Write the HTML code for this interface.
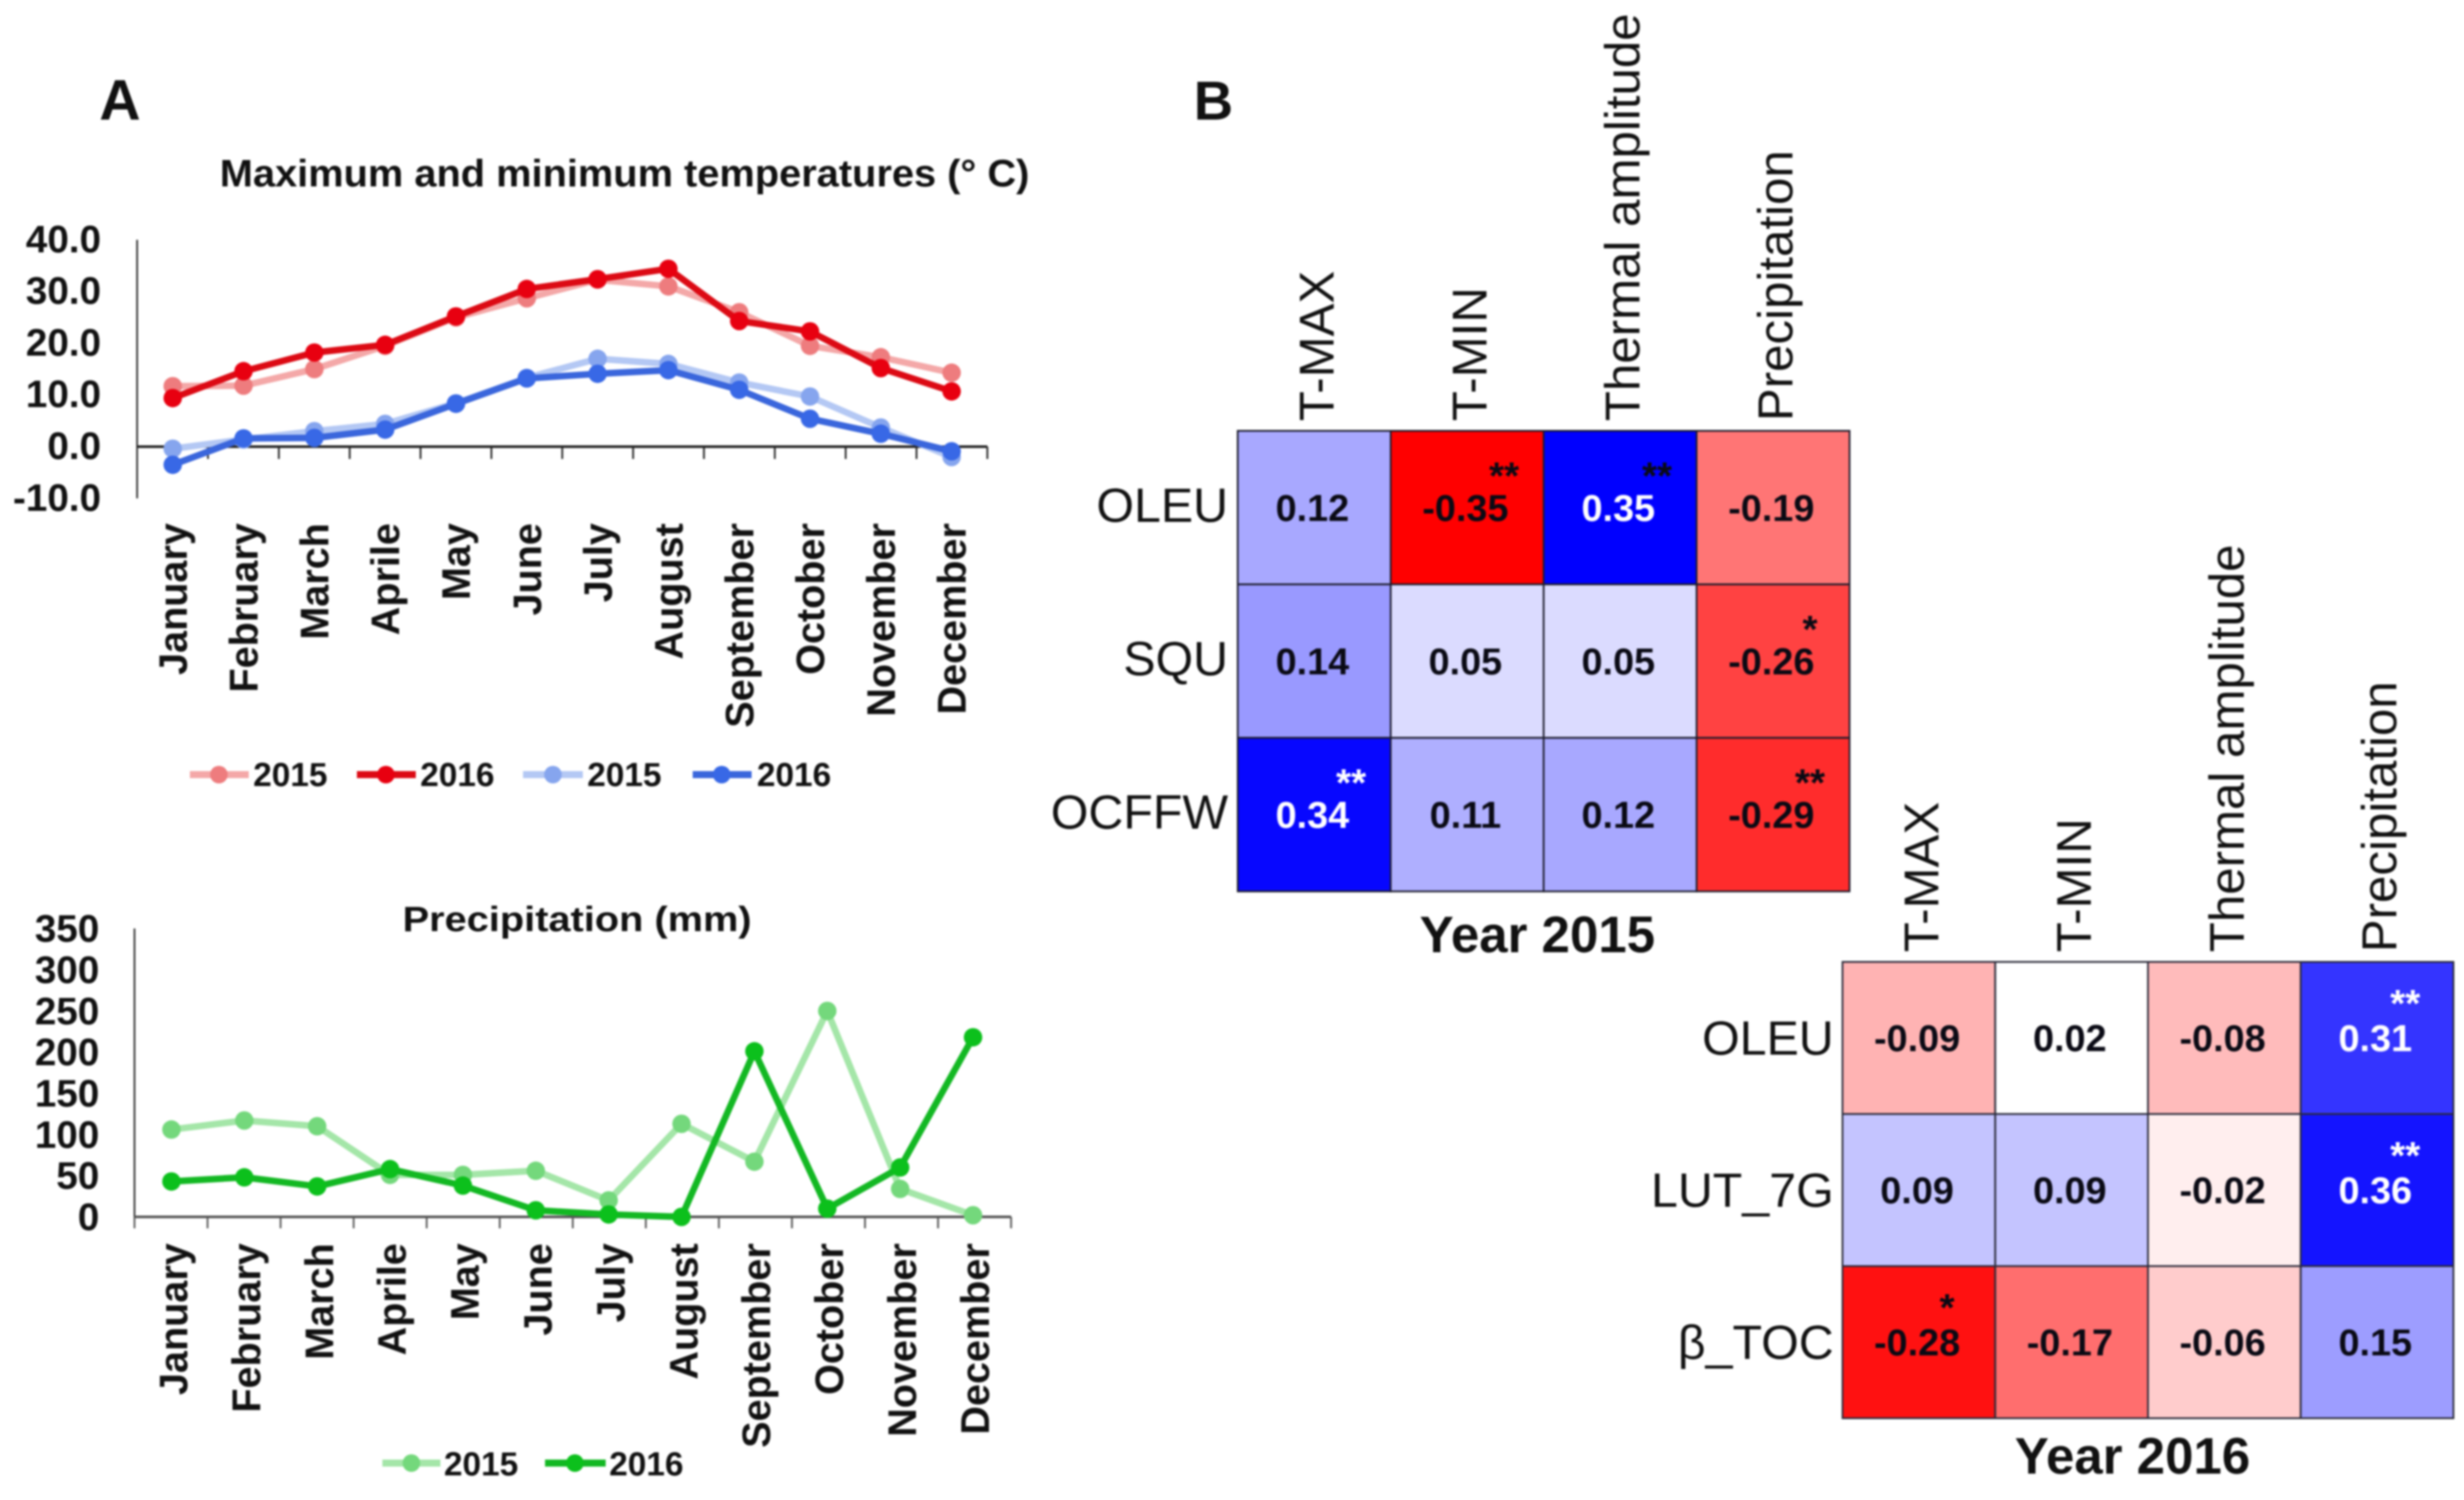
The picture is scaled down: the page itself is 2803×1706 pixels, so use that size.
<!DOCTYPE html>
<html lang="en">
<head>
<meta charset="utf-8">
<title>Temperature, precipitation and correlation heatmaps</title>
<style>
html,body{margin:0;padding:0;background:#fff;width:2803px;height:1706px;overflow:hidden}
svg{display:block;filter:blur(1.1px)}
text{font-family:"Liberation Sans","DejaVu Sans",sans-serif;fill:#111}
.b{font-weight:700}
</style>
</head>
<body>
<svg id="fig" xmlns="http://www.w3.org/2000/svg" width="2803" height="1706" viewBox="0 0 2803 1706">
  <rect x="0" y="0" width="2803" height="1706" fill="#fff"/>
  <text class="b" x="113" y="136" font-size="65">A</text>
  <text class="b" x="1358" y="136" font-size="62">B</text>
  <text class="b" x="250" y="212" font-size="44" textLength="921" lengthAdjust="spacingAndGlyphs">Maximum and minimum temperatures (° C)</text>
  <text class="b" x="458" y="1059" font-size="40" textLength="397" lengthAdjust="spacingAndGlyphs">Precipitation (mm)</text>
  <g id="temp-chart"></g>
  <g id="precip-chart"></g>

  <g>
    <g>
      <line x1="216" x2="283" y1="881" y2="881" stroke="#f4a8a8" stroke-width="8"/><circle cx="249" cy="881" r="10" fill="#ee7c7e"/>
      <text class="b" x="288" y="894" font-size="38">2015</text>
    </g>
    <g>
      <line x1="406" x2="473" y1="881" y2="881" stroke="#dc0a14" stroke-width="8"/><circle cx="439" cy="881" r="10" fill="#e80010"/>
      <text class="b" x="478" y="894" font-size="38">2016</text>
    </g>
    <g>
      <line x1="595" x2="663" y1="881" y2="881" stroke="#b4c8f4" stroke-width="8"/><circle cx="629" cy="881" r="10" fill="#86a5ee"/>
      <text class="b" x="668" y="894" font-size="38">2015</text>
    </g>
    <g>
      <line x1="788" x2="855" y1="881" y2="881" stroke="#3a66dc" stroke-width="8"/><circle cx="821" cy="881" r="10" fill="#3868e6"/>
      <text class="b" x="861" y="894" font-size="38">2016</text>
    </g>
  </g>

  <g>
    <g>
      <line x1="435" x2="501" y1="1664" y2="1664" stroke="#a4e6a8" stroke-width="8"/><circle cx="468" cy="1664" r="10" fill="#74d87c"/>
      <text class="b" x="505" y="1678" font-size="38">2015</text>
    </g>
    <g>
      <line x1="620" x2="689" y1="1664" y2="1664" stroke="#13b823" stroke-width="8"/><circle cx="654" cy="1664" r="10" fill="#0cc01c"/>
      <text class="b" x="693" y="1678" font-size="38">2016</text>
    </g>
  </g>

  <g id="heatmap-2015"></g>
  <g id="heatmap-2016"></g>
  <text class="b" x="1615" y="1083" font-size="58">Year 2015</text>
  <text class="b" x="2292" y="1676" font-size="58">Year 2016</text>
</svg>

<script>
// ---- Line chart data ----
const months = ['January','February','March','Aprile','May','June','July','August','September','October','November','December'];
const tempTicks = [40, 30, 20, 10, 0, -10];
const tempMax2015 = [11.7, 11.8, 15, 19.5, 25, 28.7, 32.3, 31, 26, 19.5, 17.3, 14.3];
const tempMax2016 = [9.4, 14.6, 18.2, 19.7, 25.2, 30.5, 32.4, 34.4, 24.3, 22.3, 15.2, 10.7];
const tempMin2015 = [-0.4, 1.4, 3, 4.4, 8.4, 13.3, 17, 16, 12.4, 9.7, 3.7, -2];
const tempMin2016 = [-3.5, 1.6, 1.7, 3.3, 8.3, 13.2, 14.1, 14.8, 11, 5.4, 2.5, -0.9];
const precipTicks = [350, 300, 250, 200, 150, 100, 50, 0];
const precip2015 = [106, 117, 110, 51, 51, 56, 20, 113, 67, 250, 34, 2];
const precip2016 = [43, 48, 37, 58, 38, 8, 3, 0, 201, 10, 60, 218];

// ---- Heatmap data ----
const columns = ['T-MAX','T-MIN','Thermal amplitude','Precipitation'];
const rows2015 = ['OLEU','SQU','OCFFW'];
const values2015 = [
  [0.12, -0.35, 0.35, -0.19],
  [0.14, 0.05, 0.05, -0.26],
  [0.34, 0.11, 0.12, -0.29]
];
const stars2015 = [
  ['', '**', '**', ''],
  ['', '', '', '*'],
  ['**', '', '', '**']
];
const rows2016 = ['OLEU','LUT_7G','β_TOC'];
const values2016 = [
  [-0.09, 0.02, -0.08, 0.31],
  [0.09, 0.09, -0.02, 0.36],
  [-0.28, -0.17, -0.06, 0.15]
];
const stars2016 = [
  ['', '', '', '**'],
  ['', '', '', '**'],
  ['*', '', '', '']
];

const NS = 'http://www.w3.org/2000/svg';
function make(tag, attrs, parent, txt) {
  const e = document.createElementNS(NS, tag);
  for (const k in attrs) e.setAttribute(k, attrs[k]);
  if (txt !== undefined) e.textContent = txt;
  parent.appendChild(e);
  return e;
}

function drawLineChart(root, cfg) {
  const x = i => cfg.firstX + i * cfg.stepX;
  const y = v => cfg.zeroY - v * cfg.unitY;

  const yAxis = make('line', {x1: cfg.axisX, x2: cfg.axisX, y1: y(cfg.yTop), y2: y(cfg.yBottom), stroke: '#333', 'stroke-width': 2}, root);
  
  

  const xAxis = make('line', {x1: cfg.axisX, x2: cfg.axisX + 12 * cfg.tickStep, y1: cfg.zeroY, y2: cfg.zeroY, stroke: cfg.axisColor, 'stroke-width': 3}, root);
  
  

  for (let i = cfg.firstTick; i <= 12; i++) {
    const t = make('line', {x1: cfg.axisX + i * cfg.tickStep, x2: cfg.axisX + i * cfg.tickStep, y1: cfg.zeroY, y2: cfg.zeroY + cfg.tickLen, stroke: cfg.axisColor, 'stroke-width': 2}, root);
    
    
  }

  cfg.ticks.forEach(v => {
    const t = make('text', {x: cfg.labelRight, y: y(v) + cfg.labelBase, 'text-anchor': 'end', 'font-size': 44, 'font-weight': 700}, root, cfg.format(v));
    
    
  });

  months.forEach((m, i) => {
    const bx = x(i) + cfg.monthOffset;
    const t = make('text', {x: bx, y: cfg.monthTop, 'text-anchor': 'end', 'font-size': 45, 'font-weight': 700, transform: 'rotate(-90 ' + bx + ' ' + cfg.monthTop + ')'}, root, m);
    
    
  });

  cfg.series.forEach(s => {
    const g = make('g', {}, root);
    
    
    const pts = s.values.map((v, i) => x(i).toFixed(1) + ',' + y(v).toFixed(1)).join(' ');
    const l = make('polyline', {points: pts, fill: 'none', stroke: s.line, 'stroke-width': s.width, 'stroke-linejoin': 'round'}, g);
    
    
    s.values.forEach((v, i) => {
      const c = make('circle', {cx: x(i), cy: y(v), r: 10.5, fill: s.dot}, g);
      
      
    });
  });
}

function drawHeatmap(root, cfg) {
  const cellColor = v => {
    if (v >= 0 && v <= cfg.whiteBand) return 'rgb(255,255,255)';
    const max = v < 0 ? cfg.negMax : cfg.posMax;
    const c = Math.max(0, Math.round(255 * (1 - Math.abs(v) / max)));
    return v < 0 ? 'rgb(255,' + c + ',' + c + ')' : 'rgb(' + c + ',' + c + ',255)';
  };
  cfg.values.forEach((row, r) => {
    row.forEach((v, c) => {
      const cx = cfg.left + c * cfg.cellW, cy = cfg.top + r * cfg.cellH;
      const rect = make('rect', {x: cx, y: cy, width: cfg.cellW, height: cfg.cellH, fill: cellColor(v), stroke: cfg.gridColor, 'stroke-width': 2}, root);
      
      
      const light = v >= 0.3;
      const val = make('text', {x: cx + cfg.cellW / 2 - 2, y: cy + cfg.cellH / 2 + 15, 'text-anchor': 'middle', 'font-size': 43, 'font-weight': 700, style: 'fill:' + (light ? '#fff' : '#0a0a14')}, root, v.toFixed(2));
      
      
      const s = cfg.stars[r][c];
      if (s) {
        const dark = cfg.darkStars.includes(r + ',' + c) || !light;
        const st = make('text', {x: cx + cfg.cellW / 2 + cfg.starDx, y: cy + cfg.starDy + 23, 'text-anchor': 'middle', 'font-size': 44, 'font-weight': 700, style: 'fill:' + (dark ? '#0a0a14' : '#fff')}, root, s);
        
        
      }
    });
  });
  cfg.rows.forEach((name, r) => {
    const t = make('text', {x: cfg.left - cfg.rowGap, y: cfg.top + r * cfg.cellH + cfg.cellH / 2 + cfg.rowBase, 'text-anchor': 'end', 'font-size': 55}, root, name);
    
    
  });
  columns.forEach((name, c) => {
    const bx = cfg.left + c * cfg.cellW + cfg.cellW / 2 + 22;
    const by = cfg.top - 11;
    const t = make('text', {x: bx, y: by, 'font-size': 56, transform: 'rotate(-90 ' + bx + ' ' + by + ')'}, root, name);
    
    
  });
}

drawLineChart(document.getElementById('temp-chart'), {
  axisX: 156, tickStep: 80.6, firstTick: 1, tickLen: 14, axisColor: '#222',
  firstX: 196.5, stepX: 80.55, zeroY: 508, unitY: 5.88, yTop: 40, yBottom: -10,
  ticks: tempTicks, labelRight: 115, labelBase: 14, format: v => v.toFixed(1),
  monthOffset: 16, monthTop: 595,
  series: [
    {name: 'tmax-2015-series', values: tempMax2015, line: '#f4a8a8', dot: '#ee7c7e', width: 7.5},
    {name: 'tmin-2015-series', values: tempMin2015, line: '#b4c8f4', dot: '#86a5ee', width: 7.5},
    {name: 'tmax-2016-series', values: tempMax2016, line: '#dc0a14', dot: '#e80010', width: 7.5},
    {name: 'tmin-2016-series', values: tempMin2016, line: '#3a66dc', dot: '#3868e6', width: 7.5}
  ]
});

drawLineChart(document.getElementById('precip-chart'), {
  axisX: 153, tickStep: 83.1, firstTick: 0, tickLen: 13, axisColor: '#555',
  firstX: 195, stepX: 82.9, zeroY: 1384, unitY: 0.937, yTop: 350, yBottom: 0,
  ticks: precipTicks, labelRight: 113, labelBase: 15, format: v => String(v),
  monthOffset: 18, monthTop: 1414,
  series: [
    {name: 'precip-2015-series', values: precip2015, line: '#a4e6a8', dot: '#74d87c', width: 7.5},
    {name: 'precip-2016-series', values: precip2016, line: '#13b823', dot: '#0cc01c', width: 7.5}
  ]
});

drawHeatmap(document.getElementById('heatmap-2015'), {
  left: 1408, top: 490, cellW: 174, cellH: 174.6, gridColor: '#1c1c2c',
  values: values2015, stars: stars2015, rows: rows2015,
  negMax: 0.35, posMax: 0.35, whiteBand: 0, starDx: 42, starDy: 43, rowBase: 16, rowGap: 11, darkStars: ['0,2']
});
drawHeatmap(document.getElementById('heatmap-2016'), {
  left: 2096, top: 1094, cellW: 173.75, cellH: 173, gridColor: '#2a2a3a',
  values: values2016, stars: stars2016, rows: rows2016,
  negMax: 0.3, posMax: 0.39, whiteBand: 0.02, starDx: 32, starDy: 39, rowBase: 19, rowGap: 10, darkStars: []
});
</script>
</body>
</html>
